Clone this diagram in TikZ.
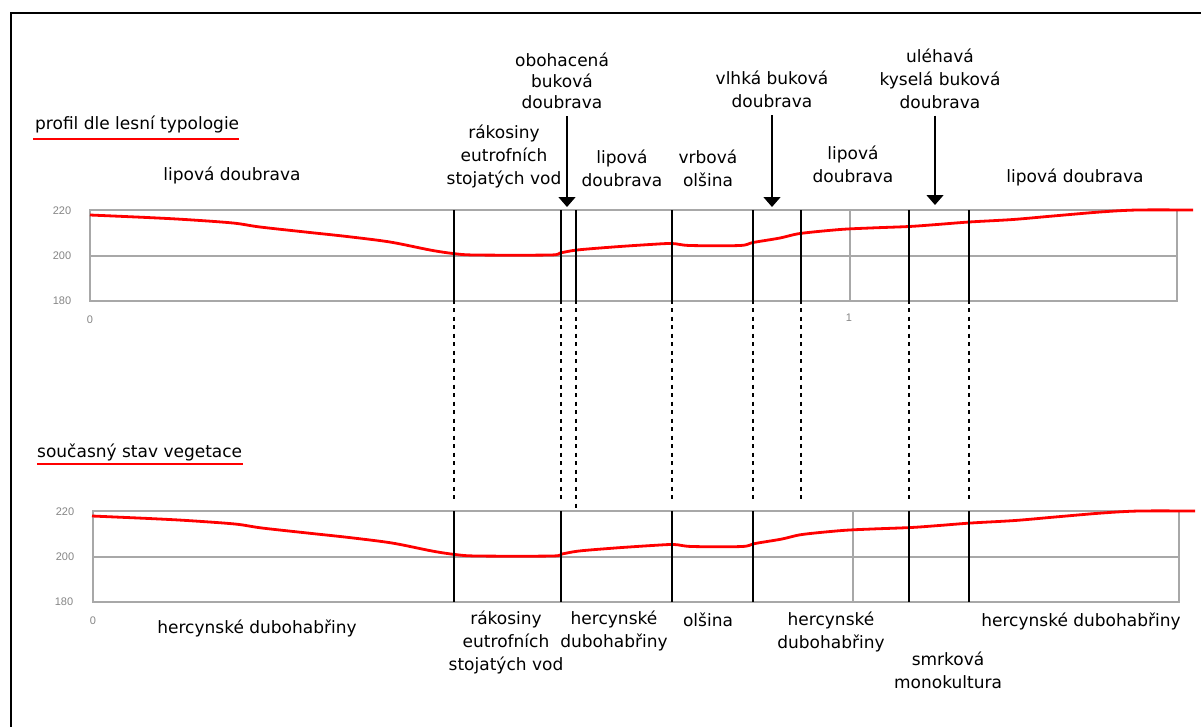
\documentclass[tikz,border=0pt]{standalone}
\usepackage{fontspec}
\setmainfont{DejaVu Sans}
\newfontfamily\axfont{Liberation Sans}
\usetikzlibrary{arrows.meta,calc}
\definecolor{gridgray}{HTML}{A8A8A8}
\definecolor{axgray}{HTML}{858585}
\newcommand\profcurve{%
  \draw[prof] plot[smooth, tension=0.5] coordinates {
    (90,215) (147,217.5) (185,219.5) (233,223) (260,227) (310,232.5) (347,236.5)
    (390,242) (430,250) (453,253.5) (475,255) (550,255) (560,253) (577,250)
    (613,247) (650,244.5) (672,243.5) (690,245.5) (740,245.5) (753,242.5) (780,238)
    (800,233.5) (840,229.5) (870,228) (909,226.5) (937,224.5) (969,222) (1013,219.5)
    (1053,216) (1100,212) (1137,210) (1193,210)};}
\begin{document}
\begin{tikzpicture}[x=1pt,y=-1pt,
  lbl/.style={font=\fontsize{17}{23}\selectfont, align=center, inner sep=0pt},
  ax/.style={font=\axfont\fontsize{11}{12}\selectfont, text=axgray, inner sep=0pt},
  gridln/.style={draw=gridgray, line width=1.3pt},
  prof/.style={red, line width=2.8pt, line join=round},
  vline/.style={black, line width=1.4pt},
  dline/.style={black, line width=1.3pt, dash pattern=on 4pt off 4.5pt},
  uline/.style={red, line width=1.5pt},
  arr/.style={black, line width=1.4pt, -{Triangle[width=17pt,length=10pt]}}]
\useasboundingbox (0,0) rectangle (1201,726);
% frame
\draw[line width=2pt] (11,730) -- (11,13) -- (1205,13);

% ---------- top chart ----------
\draw[gridln] (90,210) rectangle (1177,301);
\draw[gridln] (90,256) -- (1177,256);
\draw[gridln] (850,210) -- (850,301);
\profcurve
\foreach \x in {454,561,576,672,753,801,909,969}
  \draw[vline] (\x,210) -- (\x,304);
\node[ax] (ya1) at (62,211) {220};
\node[ax] (ya2) at (62,256) {200};
\node[ax] (ya3) at (62,301) {180};
\node[ax] (xa0) at (90,320) {0};
\node[ax] (xa1) at (849,318) {1};

% ---------- dashed connectors ----------
\foreach \x in {454,561,672,753,801,909,969}
  \draw[dline] (\x,308) -- (\x,503);
\draw[dline] (576,308) -- (576,511);

% ---------- bottom chart ----------
\draw[gridln] (93,511) rectangle (1179,602);
\draw[gridln] (93,557) -- (1179,557);
\draw[gridln] (853,511) -- (853,602);
\begin{scope}[shift={(2,301)}]
\profcurve
\end{scope}
\foreach \x in {454,561,672,753,909,969}
  \draw[vline] (\x,511) -- (\x,602);
\node[ax] (yb1) at (65,512) {220};
\node[ax] (yb2) at (65,557) {200};
\node[ax] (yb3) at (64,602) {180};
\node[ax] (xb0) at (93,621) {0};

% ---------- titles ----------
\node[lbl, anchor=west] (t1) at (35,124) {profil dle lesní typologie};
\draw[uline] ($(t1.south west)+(-2,6)$) -- ($(t1.south east)+(0,6)$);
\node[lbl, anchor=west] (t2) at (37,452) {současný stav vegetace};
\draw[uline] ($(t2.south west)+(0,3)$) -- ($(t2.south east)+(1,3)$);

% ---------- top labels ----------
\node[lbl] (l1) at (232,175) {lipová doubrava};
\node[lbl] (l2) at (504,156.5) {rákosiny\\eutrofních\\stojatých vod};
\node[lbl, font=\fontsize{17}{21}\selectfont] (l3) at (562,81) {obohacená\\buková\\doubrava};
\node[lbl] (l4) at (622,168.5) {lipová\\doubrava};
\node[lbl] (l5) at (708,168.5) {vrbová\\olšina};
\node[lbl] (l6) at (772,89.5) {vlhká buková\\doubrava};
\node[lbl] (l7) at (853,164) {lipová\\doubrava};
\node[lbl] (l8) at (940,78.5) {uléhavá\\kyselá buková\\doubrava};
\node[lbl] (l9) at (1075,177) {lipová doubrava};

\coordinate (a3) at (567,207);
\coordinate (a6) at (772,207);
\coordinate (a8) at (935,205);
\draw[arr] ([yshift=-7pt]l3.south -| a3) -- (a3);
\draw[arr] ([yshift=-7pt]l6.south -| a6) -- (a6);
\draw[arr] ([yshift=-7pt]l8.south -| a8) -- (a8);

% ---------- bottom labels ----------
\node[lbl] (b1) at (257,628) {hercynské dubohabřiny};
\node[lbl] (b2) at (506,642.5) {rákosiny\\eutrofních\\stojatých vod};
\node[lbl] (b3) at (614,630.5) {hercynské\\dubohabřiny};
\node[lbl] (b4) at (708,620) {olšina};
\node[lbl] (b5) at (831,631.5) {hercynské\\dubohabřiny};
\node[lbl] (b6) at (948,670) {smrková\\monokultura};
\node[lbl] (b7) at (1081,621) {hercynské dubohabřiny};
\end{tikzpicture}
\end{document}
